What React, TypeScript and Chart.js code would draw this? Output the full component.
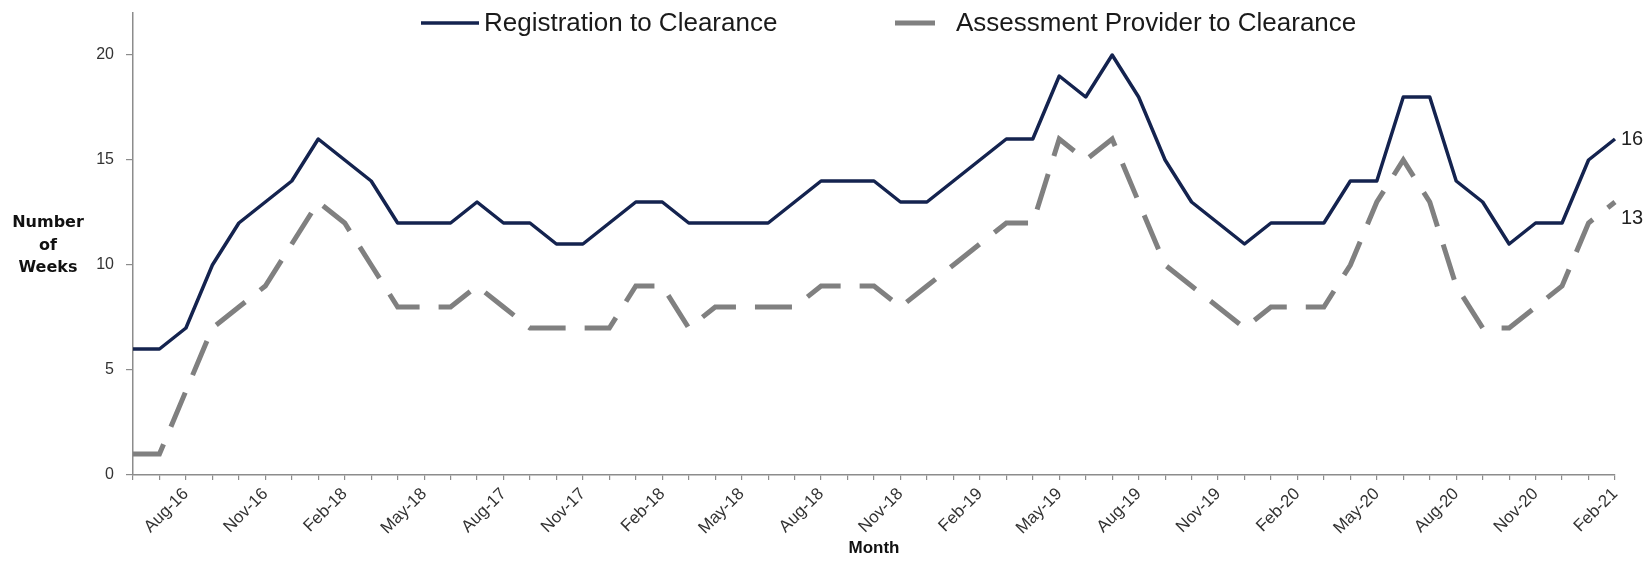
import React, { useEffect, useRef } from "react";
import { Chart, registerables } from "chart.js";

Chart.register(...registerables);

// ---- Data ----
const months = [
  "Jun-16", "Jul-16", "Aug-16", "Sep-16", "Oct-16", "Nov-16", "Dec-16",
  "Jan-17", "Feb-17", "Mar-17", "Apr-17", "May-17", "Jun-17", "Jul-17", "Aug-17", "Sep-17", "Oct-17", "Nov-17", "Dec-17",
  "Jan-18", "Feb-18", "Mar-18", "Apr-18", "May-18", "Jun-18", "Jul-18", "Aug-18", "Sep-18", "Oct-18", "Nov-18", "Dec-18",
  "Jan-19", "Feb-19", "Mar-19", "Apr-19", "May-19", "Jun-19", "Jul-19", "Aug-19", "Sep-19", "Oct-19", "Nov-19", "Dec-19",
  "Jan-20", "Feb-20", "Mar-20", "Apr-20", "May-20", "Jun-20", "Jul-20", "Aug-20", "Sep-20", "Oct-20", "Nov-20", "Dec-20",
  "Jan-21", "Feb-21",
];

// Tick labels as printed on the axis (every third month, starting at the third point)
const tickLabels = [
  "Aug-16", "Nov-16", "Feb-18", "May-18", "Aug-17", "Nov-17", "Feb-18", "May-18", "Aug-18", "Nov-18",
  "Feb-19", "May-19", "Aug-19", "Nov-19", "Feb-20", "May-20", "Aug-20", "Nov-20", "Feb-21",
];
const firstLabelIndex = 2;
const labelEvery = 3;

const registrationToClearance = [
  6, 6, 7, 10, 12, 13, 14, 16, 15, 14, 12, 12, 12, 13, 12, 12, 11, 11, 12, 13,
  13, 12, 12, 12, 12, 13, 14, 14, 14, 13, 13, 14, 15, 16, 16, 19, 18, 20, 18, 15,
  13, 12, 11, 12, 12, 12, 14, 14, 18, 18, 14, 13, 11, 12, 12, 15, 16,
];

const assessmentProviderToClearance = [
  1, 1, 4, 7, 8, 9, 11, 13, 12, 10, 8, 8, 8, 9, 8, 7, 7, 7, 7, 9,
  9, 7, 8, 8, 8, 8, 9, 9, 9, 8, 9, 10, 11, 12, 12, 16, 15, 16, 13, 10,
  9, 8, 7, 8, 8, 8, 10, 13, 15, 13, 9, 7, 7, 8, 9, 12, 13,
];

const seriesNames = ["Registration to Clearance", "Assessment Provider to Clearance"];
const yAxisTitle = ["Number", "of", "Weeks"];
const xAxisTitle = "Month";
const yMin = 0;
const yMax = 22;
const yStep = 5;

// ---- Styles ----
const NAVY = "#14234f";
const GREY = "#808080";
const AXIS = "#8c8c8c";
const TEXT = "#333333";

const legendLayout = [
  { x: 421, w: 58, gap: 5, width: 3.5 },
  { x: 895, w: 40, gap: 21, width: 5 },
];
const endLabelDy = [0, 16];

const overlayPlugin = {
  id: "overlay",
  afterDraw(chart: any) {
    const ctx = chart.ctx as CanvasRenderingContext2D;
    const area = chart.chartArea;
    ctx.save();

    // Legend
    chart.data.datasets.forEach((ds: any, i: number) => {
      const it = legendLayout[i];
      const y = 23;
      ctx.strokeStyle = ds.borderColor;
      ctx.lineWidth = it.width;
      ctx.setLineDash([]);
      ctx.lineCap = "butt";
      ctx.beginPath();
      ctx.moveTo(it.x, y);
      ctx.lineTo(it.x + it.w, y);
      ctx.stroke();
      ctx.font = '26px "Liberation Sans", Arial, sans-serif';
      ctx.fillStyle = "#1a1a1a";
      ctx.textBaseline = "middle";
      ctx.textAlign = "left";
      ctx.fillText(ds.label, it.x + it.w + it.gap, y + 1);
    });

    // End value labels
    ctx.font = '20px "Liberation Sans", Arial, sans-serif';
    ctx.fillStyle = "#222";
    ctx.textAlign = "left";
    ctx.textBaseline = "middle";
    chart.data.datasets.forEach((ds: any, i: number) => {
      const meta = chart.getDatasetMeta(i);
      const pt = meta.data[meta.data.length - 1];
      const v = ds.data[ds.data.length - 1];
      ctx.fillText(String(v), pt.x + 6, pt.y + endLabelDy[i]);
    });

    // Y axis title (horizontal, three lines)
    ctx.font = 'bold 16px "DejaVu Sans", Verdana, sans-serif';
    ctx.fillStyle = "#111";
    ctx.textAlign = "center";
    ctx.textBaseline = "middle";
    yAxisTitle.forEach((line, i) => {
      ctx.fillText(line, 48, 223 + i * 22.5);
    });

    // X axis title
    ctx.font = 'bold 17px "Liberation Sans", Arial, sans-serif';
    ctx.fillText(xAxisTitle, (area.left + area.right) / 2, 548);

    ctx.restore();
  },
};

export default function App() {
  const canvasRef = useRef<HTMLCanvasElement | null>(null);

  useEffect(() => {
    if (!canvasRef.current) return;
    const chart = new Chart(canvasRef.current, {
      type: "line",
      data: {
        labels: months,
        datasets: [
          {
            label: seriesNames[0],
            data: registrationToClearance,
            borderColor: NAVY,
            backgroundColor: NAVY,
            borderWidth: 3.5,
            pointRadius: 0,
            tension: 0,
            borderJoinStyle: "round",
          },
          {
            label: seriesNames[1],
            data: assessmentProviderToClearance,
            borderColor: GREY,
            backgroundColor: GREY,
            borderWidth: 5,
            borderDash: [37, 19],
            borderCapStyle: "butt",
            pointRadius: 0,
            tension: 0,
          },
        ],
      },
      options: {
        animation: false,
        responsive: true,
        maintainAspectRatio: false,
        layout: { padding: { top: 13, right: 32, left: 0, bottom: 0 } },
        plugins: {
          legend: { display: false },
          tooltip: { enabled: false },
          title: { display: false },
        },
        scales: {
          x: {
            type: "category",
            offset: false,
            grid: {
              display: true,
              drawOnChartArea: false,
              drawTicks: true,
              tickLength: 5,
              color: AXIS,
              lineWidth: 1.2,
            },
            border: { display: true, color: AXIS, width: 1.5 },
            ticks: {
              autoSkip: false,
              maxRotation: 45,
              minRotation: 45,
              padding: 4,
              color: TEXT,
              font: { family: '"Liberation Sans", Arial, sans-serif', size: 17 },
              callback: (_v: any, index: number) => {
                const k = index - firstLabelIndex;
                if (k >= 0 && k % labelEvery === 0) return tickLabels[k / labelEvery] ?? "";
                return "";
              },
            },
            afterFit: (scale: any) => {
              scale.height = 90;
            },
          },
          y: {
            min: yMin,
            max: yMax,
            grid: {
              display: true,
              drawOnChartArea: false,
              drawTicks: true,
              tickLength: 7,
              color: AXIS,
              lineWidth: 1.2,
            },
            border: { display: true, color: AXIS, width: 1.5 },
            ticks: {
              stepSize: yStep,
              includeBounds: false,
              padding: 12,
              color: TEXT,
              font: { family: '"Liberation Sans", Arial, sans-serif', size: 16 },
            },
            afterFit: (scale: any) => {
              scale.width = 133;
              scale.paddingTop = 0;
              scale.paddingBottom = 0;
            },
          },
        },
      },
      plugins: [overlayPlugin],
    });
    return () => chart.destroy();
  }, []);

  return (
    <div
      style={{
        position: "fixed",
        left: 0,
        top: 0,
        width: 1647,
        height: 565,
        background: "#fff",
      }}
    >
      <canvas ref={canvasRef} />
    </div>
  );
}
